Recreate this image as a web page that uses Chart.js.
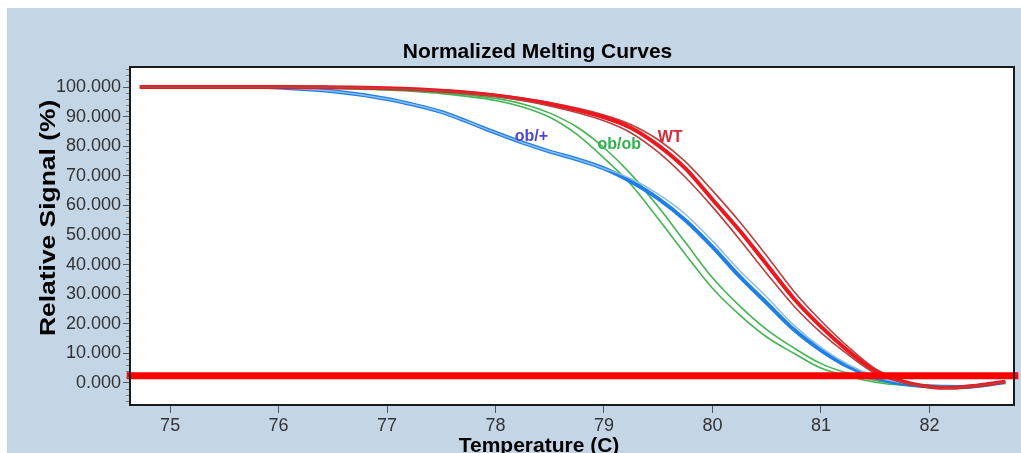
<!DOCTYPE html>
<html>
<head>
<meta charset="utf-8">
<title>Normalized Melting Curves</title>
<script src="https://cdn.jsdelivr.net/npm/chart.js@4.4.0/dist/chart.umd.min.js"></script>
<style>
  html, body { margin: 0; padding: 0; background: #fff; }
  #wrap { position: absolute; left: 7px; top: 8px; width: 1014px; height: 445px; background: #c4d5e6; }
  canvas { display: block; }
</style>
</head>
<body>
<div id="wrap"><canvas id="meltChart" width="1014" height="445"></canvas></div>
<script>
// Data (temperature in C, relative signal in %)
const tempWT = [74.72, 76.0, 77.0, 77.5, 78.0, 78.5, 79.0, 79.25, 79.5, 79.75, 80.0, 80.25, 80.5, 80.75, 81.0, 81.25, 81.5, 81.75, 82.0, 82.2, 82.45, 82.7];
const wtMain = [100, 100, 99.6, 98.8, 97.2, 94.3, 89.8, 86.2, 80.3, 72.5, 62.0, 51.5, 40.0, 28.5, 19.0, 10.8, 4.0, 0.5, -1.3, -1.7, -0.9, 0.4];
const wtLow  = [100, 100, 99.5, 98.6, 96.8, 93.6, 88.6, 84.5, 78.0, 69.5, 59.5, 48.5, 37.0, 26.0, 17.0, 9.5, 3.2, 0.2, -1.4, -1.8, -1.0, 0.3];
const wtHigh = [100, 100, 99.7, 99.0, 97.5, 94.8, 90.6, 87.3, 82.2, 74.8, 65.0, 54.5, 43.0, 31.0, 21.0, 12.2, 4.8, 0.8, -1.1, -1.5, -0.7, 0.5];

const tempObOb = [75.9, 76.5, 77.0, 77.5, 78.0, 78.25, 78.5, 78.75, 79.0, 79.25, 79.5, 79.75, 80.0, 80.25, 80.5, 80.75, 81.0, 81.25, 81.5, 81.75, 82.0];
const obObA = [100, 99.6, 99.0, 97.8, 95.5, 93.3, 89.8, 84.0, 76.0, 67.0, 55.5, 43.5, 32.0, 23.0, 15.5, 10.0, 5.0, 2.2, 0.2, -0.8, -1.1];
const obObB = [100, 99.7, 99.2, 98.2, 96.2, 94.3, 91.2, 86.5, 79.5, 70.5, 59.5, 47.5, 35.5, 26.0, 18.0, 11.8, 6.5, 3.2, 0.8, -0.5, -1.0];

const tempHet = [75.9, 76.5, 77.0, 77.25, 77.5, 77.75, 78.0, 78.25, 78.5, 78.75, 79.0, 79.25, 79.5, 79.75, 80.0, 80.25, 80.5, 80.75, 81.0, 81.25, 81.5, 81.75, 82.0, 82.3, 82.7];
const hetMain  = [100, 98.6, 96.0, 94.0, 91.6, 88.2, 84.6, 81.2, 78.2, 75.6, 72.5, 68.0, 62.3, 55.0, 46.0, 36.0, 27.0, 18.0, 11.0, 5.5, 1.8, -0.3, -1.2, -1.4, 0.2];
const hetLight = [100, 98.6, 96.0, 94.0, 91.6, 88.2, 84.6, 81.2, 78.2, 75.6, 72.5, 69.0, 63.8, 57.0, 48.0, 38.0, 29.0, 19.5, 12.0, 6.2, 2.2, 0.0, -1.1, -1.3, 0.2];

const tempPurple = [75.85, 76.45];
const purpleVals = [100, 100];

const tempBase = [74.6, 82.82];
const baseVals = [2.4, 2.4];

const curveLabels = [
  { text: 'WT', x: 79.61, y: 82.8, color: '#d42a3a' },
  { text: 'ob/ob', x: 79.14, y: 80.4, color: '#30b04a' },
  { text: 'ob/+', x: 78.33, y: 83.3, color: '#4b45d6' }
];

function pts(xs, ys) {
  return xs.map((x, i) => ({ x: x, y: ys[i] }));
}

function line(data, color, width, extra) {
  return Object.assign({
    data: data,
    borderColor: color,
    borderWidth: width,
    pointRadius: 0,
    fill: false,
    cubicInterpolationMode: 'monotone'
  }, extra || {});
}

// draws the frame, minor ticks, curve labels and all titles
const decorPlugin = {
  id: 'decor',
  beforeDatasetsDraw(chart) {
    const a = chart.chartArea;
    const c = chart.ctx;
    c.save();
    c.fillStyle = '#fff';
    c.fillRect(a.left, a.top, a.right - a.left, a.bottom - a.top);
    c.restore();
  },
  afterDatasetsDraw(chart) {
    const a = chart.chartArea;
    const c = chart.ctx;
    const ys = chart.scales.y;
    const xs = chart.scales.x;
    c.save();
    // minor ticks on the y axis
    c.strokeStyle = '#777';
    c.lineWidth = 1;
    for (let v = -6; v <= 106; v += 2) {
      if (v % 10 === 0) continue;
      const py = Math.round(ys.getPixelForValue(v)) + 0.5;
      c.beginPath();
      c.moveTo(a.left - 4, py);
      c.lineTo(a.left, py);
      c.stroke();
    }
    // curve labels
    c.font = 'bold 16px Arial, "Liberation Sans", sans-serif';
    c.textAlign = 'center';
    c.textBaseline = 'middle';
    curveLabels.forEach(l => {
      c.fillStyle = l.color;
      c.fillText(l.text, xs.getPixelForValue(l.x), ys.getPixelForValue(l.y));
    });
    c.restore();
  },
  afterDraw(chart) {
    const a = chart.chartArea;
    const c = chart.ctx;
    c.save();
    c.strokeStyle = '#1a1a1a';
    c.lineWidth = 2;
    c.strokeRect(a.left, a.top, a.right - a.left, a.bottom - a.top);

    c.fillStyle = '#000';
    c.font = 'bold 21px Arial, "Liberation Sans", sans-serif';
    c.textAlign = 'center';
    c.textBaseline = 'alphabetic';
    c.fillText('Normalized Melting Curves', 530.5, 49.7);
    c.fillText('Temperature (C)', 532, 443.7);

    // the axis title in the picture is drawn long and narrow
    c.translate(48, 328);
    c.rotate(-Math.PI / 2);
    c.scale(1.2, 1);
    c.textAlign = 'left';
    c.font = 'bold 22px Arial, "Liberation Sans", sans-serif';
    c.fillText('Relative Signal (%)', 0, 0);
    c.restore();
  }
};

const ctx = document.getElementById('meltChart').getContext('2d');

const meltChart = new Chart(ctx, {
  type: 'line',
  data: {
    datasets: [
      line(pts(tempBase, baseVals), '#ff0000', 7, { clip: false, cubicInterpolationMode: 'default' }),
      line(pts(tempWT, wtLow), '#b8403e', 1.6),
      line(pts(tempWT, wtMain), '#ec1820', 4),
      line(pts(tempWT, wtHigh), '#b8403e', 1.6),
      line(pts(tempPurple, purpleVals), '#7a3fa0', 3),
      line(pts(tempHet, hetLight), '#8cbcec', 1.5),
      line(pts(tempHet, hetMain), '#1f7fe6', 4),
      line(pts(tempObOb, obObA), '#44b455', 1.6),
      line(pts(tempObOb, obObB), '#44b455', 1.6)
    ]
  },
  options: {
    responsive: false,
    animation: false,
    devicePixelRatio: 1,
    layout: { padding: { top: 59, right: 7, left: 0, bottom: 0 } },
    plugins: {
      legend: { display: false },
      tooltip: { enabled: false },
      title: { display: false }
    },
    scales: {
      x: {
        type: 'linear',
        min: 74.63,
        max: 82.78,
        afterFit: (s) => { s.height = 48; },
        border: { display: true, color: '#1a1a1a', width: 2 },
        grid: { drawOnChartArea: false, drawTicks: true, tickLength: 8, color: '#555' },
        ticks: {
          stepSize: 1,
          includeBounds: false,
          autoSkip: false,
          maxRotation: 0,
          padding: 2,
          color: '#333',
          font: { size: 18, family: 'Arial, "Liberation Sans", sans-serif' },
          callback: (v) => v
        }
      },
      y: {
        type: 'linear',
        min: -7.5,
        max: 106.8,
        afterFit: (s) => { s.width = 123; },
        border: { display: true, color: '#1a1a1a', width: 2 },
        grid: { drawOnChartArea: false, drawTicks: true, tickLength: 7, color: '#555' },
        ticks: {
          stepSize: 10,
          includeBounds: false,
          padding: 2,
          color: '#333',
          font: { size: 18, family: 'Arial, "Liberation Sans", sans-serif' },
          callback: (v) => v.toFixed(3)
        }
      }
    }
  },
  plugins: [decorPlugin]
});
</script>
</body>
</html>
